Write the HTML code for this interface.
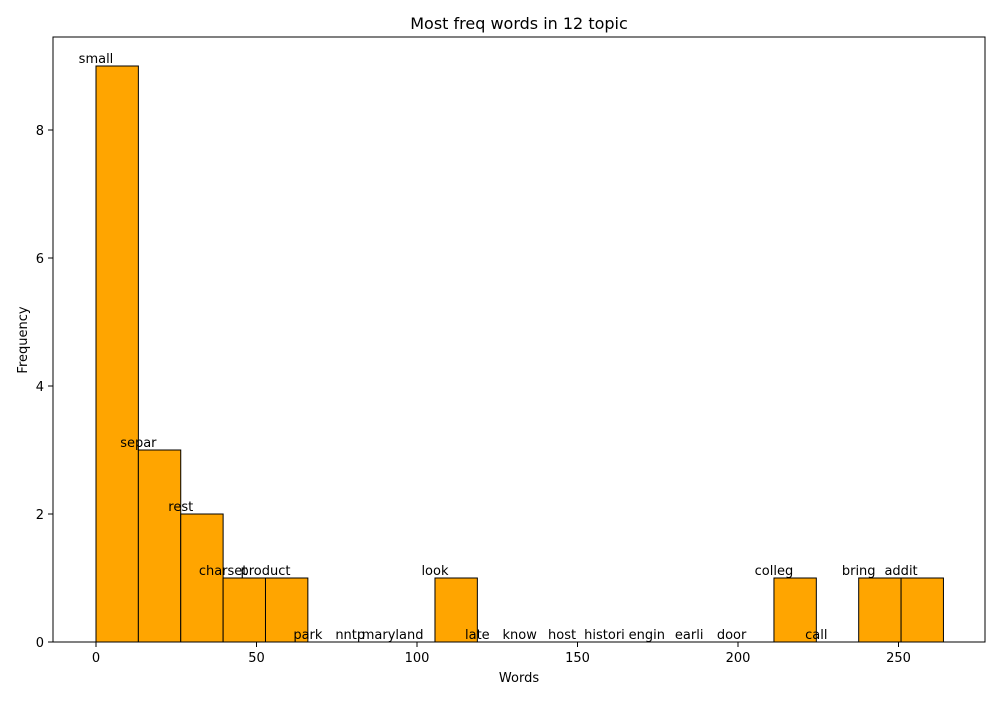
<!DOCTYPE html>
<html><head><meta charset="utf-8"><style>
body{margin:0;background:#fff;font-family:"Liberation Sans","DejaVu Sans",sans-serif}
svg text{font-family:"DejaVu Sans","Liberation Sans",sans-serif}
</style></head><body>
<svg id="c" width="1000" height="700" xmlns="http://www.w3.org/2000/svg">
<rect x="0" y="0" width="1000" height="700" fill="#fff"/>
<text x="519" y="29" font-size="16" text-anchor="middle">Most freq words in 12 topic</text>
<g id="bars"></g><g id="labels"></g><g id="ticks"></g>
<rect x="53" y="37" width="932" height="605" fill="none" stroke="#000" stroke-width="1"/>
<text x="519" y="682" font-size="13" text-anchor="middle">Words</text>
<text x="27" y="340" font-size="13" text-anchor="middle" transform="rotate(-90 27 340)">Frequency</text>
</svg>
<script>
const words = ["small","separ","rest","charset","product","park","nntp","maryland","look","late","know","host","histori","engin","earli","door","colleg","call","bring","addit"];
const counts = [9,3,2,1,1,0,0,0,1,0,0,0,0,0,0,0,1,0,1,1];
const binStart = 0;
const binEnd = 264;
const xTicks = [0,50,100,150,200,250];
const yTicks = [0,2,4,6,8];
const NS="http://www.w3.org/2000/svg";
function X(v){return 96+(v-0)*3.21;}
function Y(v){return 642-v*64;}
function mk(t,a,p){const e=document.createElementNS(NS,t);for(const k in a)e.setAttribute(k,a[k]);document.getElementById(p).appendChild(e);return e;}
const w=(binEnd-binStart)/counts.length;
counts.forEach((c,i)=>{
  const x0=X(binStart+i*w),x1=X(binStart+(i+1)*w);
  if(c>0){
    const r=mk('rect',{x:x0,y:Y(c),width:x1-x0,height:Y(0)-Y(c),fill:'#ffa500',stroke:'#000','stroke-width':1},'bars');
    
    
  }
  const t=mk('text',{x:x0,y:Y(c)-3,'font-size':13,'text-anchor':'middle'},'labels');
  t.textContent=words[i];
  
  
});
xTicks.forEach(v=>{
  const l=mk('line',{x1:X(v),x2:X(v),y1:642,y2:647,stroke:'#000'},'ticks');
  
  
  const t=mk('text',{x:X(v),y:662,'font-size':13,'text-anchor':'middle'},'ticks');
  t.textContent=v;
  
  
});
yTicks.forEach(v=>{
  const l=mk('line',{x1:48,x2:53,y1:Y(v),y2:Y(v),stroke:'#000'},'ticks');
  
  
  const t=mk('text',{x:44,y:Y(v)+5,'font-size':13,'text-anchor':'end'},'ticks');
  t.textContent=v;
  
  
});
</script>
</body></html>
